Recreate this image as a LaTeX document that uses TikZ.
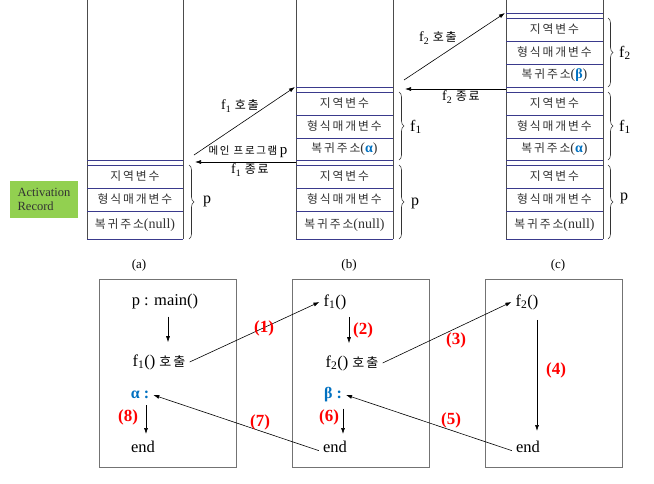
\documentclass[tikz,border=0pt]{standalone}
\usepackage{fontspec}
\setmainfont{Liberation Serif}
\newfontfamily\kr[LetterSpace=16]{Noto Sans CJK KR}
\usetikzlibrary{arrows.meta,decorations.pathreplacing}
\definecolor{navy}{HTML}{3A3A8C}
\definecolor{agreen}{HTML}{92D050}
\definecolor{ablue}{HTML}{0070C0}
\definecolor{ared}{HTML}{FF0000}
\newcommand{\krt}[1]{{\kr #1}}
\newcommand{\ltn}[1]{{\fontsize{14}{16}\selectfont #1}}
\begin{document}
\begin{tikzpicture}[x=1pt,y=-1pt,
  hline/.style={draw=navy,line width=1pt},
  vline/.style={draw=black!70,line width=0.9pt},
  cell/.style={inner sep=0pt,font=\fontsize{11.8}{13}\selectfont,text=black!80},
  brc/.style={decorate,decoration={brace,amplitude=5pt},draw=black!80,line width=0.6pt},
  blab/.style={anchor=west,inner sep=0pt,font=\fontsize{16}{18}\selectfont},
  arr/.style={-{Latex[length=6pt,width=4pt]},line width=0.6pt},
  tlab/.style={inner sep=0pt,font=\fontsize{14}{16}\selectfont},
  frame/.style={draw=black!55,line width=1pt,minimum width=137pt,minimum height=188pt,inner sep=0pt},
  code/.style={inner sep=4pt,font=\fontsize{16.5}{18}\selectfont},
  grk/.style={inner sep=4pt,font=\bfseries\fontsize{16}{18}\selectfont,text=ablue},
  num/.style={inner sep=0pt,font=\bfseries\fontsize{17}{18}\selectfont,text=ared},
  sub/.style={inner sep=0pt,font=\fontsize{13}{15}\selectfont}]
\useasboundingbox (0,0) rectangle (654,483);

% ---------- stack (a)
\draw[vline] (87,0) -- (87,239);
\draw[vline] (183,0) -- (183,239);
\foreach \y in {160,165,188,211,239} \draw[hline] (87,\y) -- (183,\y);
\node[cell] (a1) at (135,176.5) {\krt{지역변수}};
\node[cell] (a2) at (135,199.5) {\krt{형식매개변수}};
\node[cell] (a3) at (135,225) {\krt{복귀주소}\ltn{(null)}};
\draw[brc] (189,165) -- (189,239);
\node[blab] (ap) at (203,201) {p};
\node[fill=agreen,minimum width=68pt,minimum height=37pt,inner sep=0pt,
      align=left,text=black!80,font=\fontsize{12.5}{14}\selectfont] (ar) at (44,199.5) {Activation\\Record};
\node[sub] (la) at (139,265) {(a)};

% ---------- stack (b)
\draw[vline] (296,0) -- (296,239);
\draw[vline] (393,0) -- (393,239);
\foreach \y in {87,92,115,138,160,165,188,211,239} \draw[hline] (296,\y) -- (393,\y);
\node[cell] (b1) at (344.5,103.5) {\krt{지역변수}};
\node[cell] (b2) at (344.5,126.5) {\krt{형식매개변수}};
\node[cell] (b3) at (344.5,149.5) {\krt{복귀주소}\ltn{(\textcolor{ablue}{\textbf{α}})}};
\node[cell] (b4) at (344.5,176.5) {\krt{지역변수}};
\node[cell] (b5) at (344.5,199.5) {\krt{형식매개변수}};
\node[cell] (b6) at (344.5,225) {\krt{복귀주소}\ltn{(null)}};
\draw[brc] (399,92) -- (399,160);
\draw[brc] (399,165) -- (399,239);
\node[blab] (bf1) at (410,127) {f\textsubscript{1}};
\node[blab] (bp) at (411,203) {p};
\node[sub] (lb) at (349,265) {(b)};

% ---------- stack (c)
\draw[vline] (506,0) -- (506,239);
\draw[vline] (603,0) -- (603,239);
\foreach \y in {13,18,41,64,87,92,115,138,160,165,188,211,239} \draw[hline] (506,\y) -- (603,\y);
\node[cell] (c1) at (554.5,29.5) {\krt{지역변수}};
\node[cell] (c2) at (554.5,52.5) {\krt{형식매개변수}};
\node[cell] (c3) at (554.5,75.5) {\krt{복귀주소}\ltn{(\textcolor{ablue}{\textbf{β}})}};
\node[cell] (c4) at (554.5,103.5) {\krt{지역변수}};
\node[cell] (c5) at (554.5,126.5) {\krt{형식매개변수}};
\node[cell] (c6) at (554.5,149.5) {\krt{복귀주소}\ltn{(\textcolor{ablue}{\textbf{α}})}};
\node[cell] (c7) at (554.5,176.5) {\krt{지역변수}};
\node[cell] (c8) at (554.5,199.5) {\krt{형식매개변수}};
\node[cell] (c9) at (554.5,225) {\krt{복귀주소}\ltn{(null)}};
\draw[brc] (608,18) -- (608,87);
\draw[brc] (608,92) -- (608,160);
\draw[brc] (608,165) -- (608,239);
\node[blab] (cf2) at (619,53) {f\textsubscript{2}};
\node[blab] (cf1) at (619,127) {f\textsubscript{1}};
\node[blab] (cp) at (620,198) {p};
\node[sub] (lc) at (558,265) {(c)};

% ---------- top arrows
\coordinate (aout) at (194,155);
\coordinate (bin) at (295,87);
\coordinate (bret) at (296,162);
\coordinate (aret) at (195,162);
\coordinate (bout) at (404,80);
\coordinate (cin) at (505,13);
\coordinate (cret) at (506,89);
\coordinate (bret2) at (405,89);
\draw[arr] (aout) -- (bin);
\draw[arr] (bret) -- (aret);
\draw[arr] (bout) -- (cin);
\draw[arr] (cret) -- (bret2);
\node[tlab] (t1) at (240,106) {f\textsubscript{1} \krt{\fontsize{12}{14}\selectfont 호출}};
\node[inner sep=0pt] (t2) at (248,152) {\krt{\fontsize{10.5}{12}\selectfont 메인 프로그램} {\fontsize{15}{16}\selectfont p}};
\node[tlab] (t3) at (250,170) {f\textsubscript{1} \krt{\fontsize{12}{14}\selectfont 종료}};
\node[tlab] (t4) at (438,38) {f\textsubscript{2} \krt{\fontsize{12}{14}\selectfont 호출}};
\node[tlab] (t5) at (461,97) {f\textsubscript{2} \krt{\fontsize{12}{14}\selectfont 종료}};

% ---------- bottom boxes
\node[frame] (box1) at (167.5,373) {};
\node[frame] (box2) at (361,373) {};
\node[frame] (box3) at (553.5,373) {};

\node[code] (main) at (165,302) {p : main()};
\node[code] (call1) at (159,362) {f\textsubscript{1}() \krt{\fontsize{13}{15}\selectfont 호출}};
\node[grk] (alpha) at (140,395) {α :};
\node[code] (end1) at (143,447) {end};
\draw[arr,shorten <=3pt,shorten >=8pt] ([xshift=3pt]main.south) -- ([xshift=3pt]main.south |- call1.north);
\draw[arr,shorten <=2pt,shorten >=3pt] ([xshift=3pt]end1.north |- alpha.south) -- ([xshift=3pt]end1.north);
\node[num] (n8) at (128,417) {(8)};

\node[code] (f1n) at (335,302) {f\textsubscript{1}()};
\node[code] (call2) at (352,363) {f\textsubscript{2}() \krt{\fontsize{13}{15}\selectfont 호출}};
\node[grk] (beta) at (333,395) {β :};
\node[code] (end2) at (335,447) {end};
\draw[arr,shorten <=3pt,shorten >=8pt] ([xshift=14pt]f1n.south) -- ([xshift=14pt]f1n.south |- call2.north);
\draw[arr,shorten <=2pt,shorten >=3pt] ([xshift=8pt]end2.north |- beta.south) -- ([xshift=8pt]end2.north);
\node[num] (n2) at (363,330) {(2)};
\node[num] (n6) at (329,417) {(6)};

\node[code] (f2n) at (527,302) {f\textsubscript{2}()};
\node[code] (end3) at (528,447) {end};
\draw[arr,shorten <=6pt,shorten >=6pt] ([xshift=10pt]f2n.south) -- ([xshift=10pt]f2n.south |- end3.north);
\node[num] (n4) at (556,370) {(4)};

% cross-box connectors
\draw[arr] (call1.east) -- (f1n.west);
\draw[arr] (call2.east) -- (f2n.west);
\draw[arr] ([yshift=2pt]end3.base west) -- (beta.east);
\draw[arr] ([yshift=2pt]end2.base west) -- (alpha.east);
\node[num] (n1) at (264,328) {(1)};
\node[num] (n3) at (456,340) {(3)};
\node[num] (n5) at (451,420) {(5)};
\node[num] (n7) at (260,422) {(7)};
\end{tikzpicture}
\end{document}
